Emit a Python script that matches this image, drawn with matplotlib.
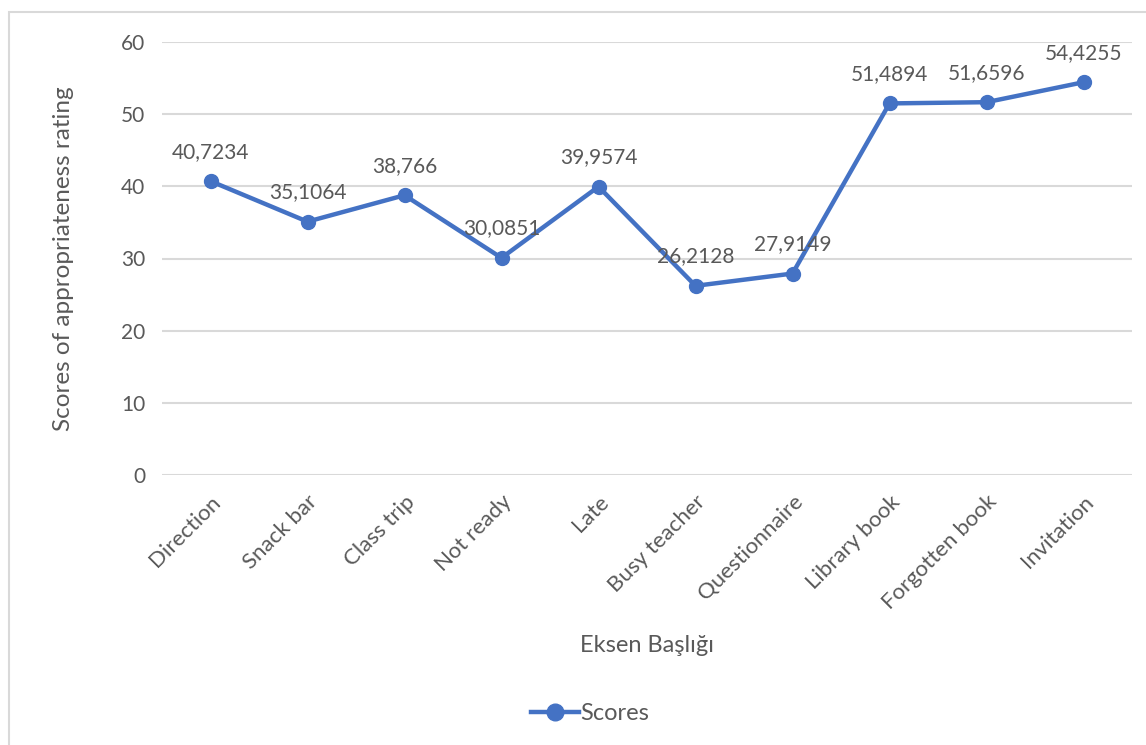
# Line chart: scores of appropriateness rating per situation

import matplotlib.pyplot as plt
from matplotlib.patches import Rectangle

# Data -----------------------------------------------------------------------

situations = ['Direction', 'Snack bar', 'Class trip', 'Not ready', 'Late',
              'Busy teacher', 'Questionnaire', 'Library book', 'Forgotten book',
              'Invitation']
scores = [40.7234, 35.1064, 38.766, 30.0851, 39.9574,
          26.2128, 27.9149, 51.4894, 51.6596, 54.4255]
score_labels = ['40,7234', '35,1064', '38,766', '30,0851', '39,9574',
                '26,2128', '27,9149', '51,4894', '51,6596', '54,4255']
y_ticks = [0, 10, 20, 30, 40, 50, 60]

# Style ----------------------------------------------------------------------

plt.rcParams['font.family'] = ['Lato', 'DejaVu Sans']
text_color = '#595959'
line_color = '#4472c4'
grid_color = '#d9d9d9'

fig = plt.figure(figsize=(11.46, 7.45), dpi=100)
ax = fig.add_axes([162 / 1146, 1 - 475 / 745, 970 / 1146, 433 / 745])

# chart border
fig.patches.append(Rectangle((9 / 1146, -0.1), 1.2, 1 - 12 / 745 + 0.1,
                             transform=fig.transFigure, fill=False,
                             edgecolor=grid_color, linewidth=1.5))

x = list(range(len(situations)))
ax.plot(x, scores, color=line_color, linewidth=3.2, marker='o', markersize=10,
        label='Scores', zorder=3)

for xi, yi, lab in zip(x, scores, score_labels):
    ax.annotate(lab, (xi, yi), xytext=(0, 14), textcoords='offset points',
                ha='center', va='bottom', fontsize=15, color=text_color)

ax.set_xlim(-0.5, len(situations) - 0.5)
ax.set_ylim(0, 60)
ax.set_yticks(y_ticks)
ax.set_xticks(x)
ax.set_xticklabels(situations, rotation=45, ha='right', rotation_mode='anchor')
ax.tick_params(axis='y', length=0, labelsize=15, labelcolor=text_color, pad=12)
ax.tick_params(axis='x', length=0, labelsize=16, labelcolor=text_color, pad=12)

ax.grid(axis='y', color=grid_color, linewidth=1.5)
ax.set_axisbelow(True)
for s in ax.spines.values():
    s.set_visible(False)

ax.set_ylabel('Scores of appropriateness rating', fontsize=17.5, color=text_color, labelpad=34)
fig.text(647 / 1146, 1 - 645 / 745, 'Eksen Başlığı', ha='center', va='center',
         fontsize=17, color=text_color)

leg = fig.legend(loc='center', bbox_to_anchor=(590 / 1146, 1 - 714 / 745),
                 frameon=False, fontsize=17, handlelength=2.0, handletextpad=0.05,
                 markerscale=1.2)
for t in leg.get_texts():
    t.set_color(text_color)

fig.savefig('out.png', dpi=100)
